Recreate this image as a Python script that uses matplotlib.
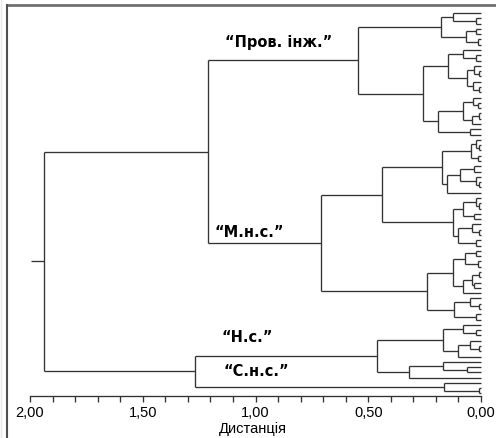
import matplotlib
matplotlib.use('Agg')

import matplotlib.pyplot as plt
from matplotlib.lines import Line2D
import numpy as np

plt.rcParams['font.family'] = ['Liberation Sans', 'DejaVu Sans']

# Dendrogram subtrees: [merge distance, child, child]; 'x' is a single case
L = 'x'
prov_top = [0.177, [0.124, L, [0.02, L, L]], [0.066, [0.02, L, L], [0.015, L, L]]]
prov_mid = [0.146, [0.08, L, [0.02, L, L]],
            [0.06, [0.03, L, [0.01, L, L]], [0.035, L, [0.01, L, L]]]]
prov_low = [0.19, [0.08, [0.035, L, [0.015, L, L]], [0.04, [0.01, L, L], L]], [0.05, L, L]]
prov = [0.545, prov_top, [0.257, prov_mid, prov_low]]

mns_a = [0.173, [0.044, [0.02, L, [0.01, L, L]], [0.015, L, L]],
         [0.15, [0.093, [0.03, L, L], [0.02, L, [0.01, L, L]]], L]]
mns_b = [0.124, [0.08, [0.02, L, [0.01, L, L]], [0.03, L, L]],
         [0.1, [0.04, L, [0.01, L, L]], [0.02, L, L]]]
mns_c = [0.124, [0.07, [0.02, L, L], [0.015, L, L]],
         [0.08, [0.04, [0.01, L, L], [0.03, L, L]], L]]
mns_d = [0.12, [0.05, L, [0.01, L, L]], [0.02, L, L]]
mns = [0.71, [0.44, mns_a, mns_b], [0.24, mns_c, mns_d]]

ns = [0.46, [0.17, [0.08, L, [0.02, L, L]], [0.1, [0.05, L, [0.01, L, L]], L]],
      [0.32, [0.17, L, [0.06, L, L]], L]]
sns_ = [0.165, L, [0.01, L, L]]

tree = [1.94, [1.21, prov, mns], [1.27, ns, sns_]]

cluster_labels = ['“Пров. інж.”', '“М.н.с.”', '“Н.с.”', '“С.н.с.”']
label_pos = [(1.135, 43), (1.18, 233), (1.15, 338), (1.14, 372)]
tick_values = np.round(np.arange(0, 2.01, 0.1), 1)


def count_leaves(node):
    if node == L:
        return 1
    return count_leaves(node[1]) + count_leaves(node[2])


n_leaves = count_leaves(tree)
y_first, y_last = 14.0, 394.5
step = (y_last - y_first) / (n_leaves - 1)
line_kw = dict(color='#333333', lw=0.95, solid_capstyle='butt', clip_on=False)

fig = plt.figure(figsize=(4.96, 4.39), dpi=100)
ax = fig.add_axes([30 / 496, (439 - 397) / 439, 451 / 496, (397 - 8) / 439])

counter = [0]


def draw(node):
    if node == L:
        y = y_first + counter[0] * step
        counter[0] += 1
        return y, 0.0
    h = node[0]
    ya, ha = draw(node[1])
    yb, hb = draw(node[2])
    ax.plot([ha, h], [ya, ya], **line_kw)
    ax.plot([hb, h], [yb, yb], **line_kw)
    ax.plot([h, h], [ya, yb], **line_kw)
    return (ya + yb) / 2, h


y_root, h_root = draw(tree)
ax.plot([h_root, 1.995], [y_root, y_root], **line_kw)

ax.set_xlim(2.0, 0.0)
ax.set_ylim(397, 8)
ax.set_yticks([])
for side in ['top', 'right', 'left']:
    ax.spines[side].set_visible(False)
ax.spines['bottom'].set_color('#333333')
ax.spines['bottom'].set_linewidth(0.95)
ax.set_xticks(tick_values)
ax.set_xticklabels([f'{v:.2f}'.replace('.', ',') if round(v * 10) % 5 == 0 else ''
                    for v in tick_values], fontsize=10.5)
ax.tick_params(axis='x', length=4.5, width=0.95, color='#333333', pad=2)
ax.patch.set_alpha(0)
fig.text(253 / 496, 1 - 429 / 439, 'Дистанція', fontsize=10.5, ha='center', va='center')

for txt, (xd, yp) in zip(cluster_labels, label_pos):
    ax.text(xd, yp, txt, fontsize=10.5, fontweight='bold', ha='left', va='center',
            family=['DejaVu Sans'])

# outer frame
fig.add_artist(Line2D([7 / 496, 1], [1 - 6 / 439, 1 - 6 / 439], color='#707070', lw=2))
fig.add_artist(Line2D([7 / 496, 7 / 496], [0, 1 - 6 / 439], color='#505050', lw=1.5))
fig.add_artist(Line2D([1 / 496, 1 / 496], [0, 1], color='#e8e8e8', lw=1))

plt.savefig('out.png', dpi=100)
plt.close(fig)
